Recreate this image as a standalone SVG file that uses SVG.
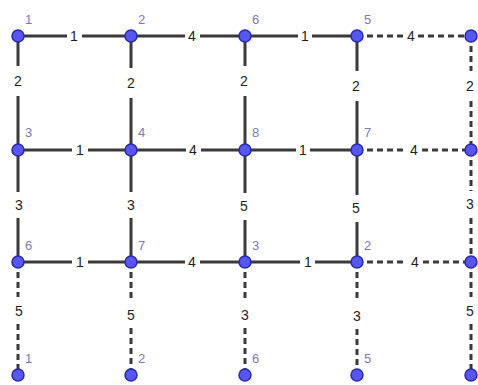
<svg xmlns="http://www.w3.org/2000/svg" width="478" height="385" viewBox="0 0 478 385">
<style>
.e{stroke:#3a3a3a;stroke-width:3;fill:none}
.d{stroke-dasharray:6 4}
.n{fill:#5656f0;stroke:#2a2aa8;stroke-width:1.5}
.nl{font-family:"Liberation Sans",Arial,sans-serif;font-size:13px;fill:#7a7ab8}
.el{font-family:"Liberation Sans",Arial,sans-serif;font-size:14px;fill:#1e1e1e;text-anchor:middle}
</style>
<rect width="478" height="385" fill="#ffffff"/>
<g id="connectors">
<!-- row 0 -->
<path class="e" d="M18 36H67M82 36H131"/>
<path class="e" d="M131 36H185M200 36H245"/>
<path class="e" d="M245 36H298M312 36H357"/>
<path class="e d" d="M357 36H404M418 36H471"/>
<!-- row 1 -->
<path class="e" d="M18 150H72M88 150H131"/>
<path class="e" d="M131 150H186M201 150H245"/>
<path class="e" d="M245 150H296M310 150H357"/>
<path class="e d" d="M357 150H406M422 150H471"/>
<!-- row 2 -->
<path class="e" d="M18 262H72M88 262H131"/>
<path class="e" d="M131 262H185M200 262H245"/>
<path class="e" d="M245 262H300M315 262H357"/>
<path class="e d" d="M357 262H407M423 262H471"/>
<!-- verticals rows 0-1 -->
<path class="e" d="M18 36V66M18 96V150"/>
<path class="e" d="M131 36V68M131 98V150"/>
<path class="e" d="M245 36V66M245 96V150"/>
<path class="e" d="M357 36V71M357 101V150"/>
<path class="e d" d="M471 36V71M471 101V150"/>
<!-- verticals rows 1-2 -->
<path class="e" d="M18 150V192M18 218V262"/>
<path class="e" d="M131 150V192M131 218V262"/>
<path class="e" d="M245 150V193M245 220V262"/>
<path class="e" d="M357 150V195M357 222V262"/>
<path class="e d" d="M471 150V191M471 218V262"/>
<!-- verticals rows 2-3 -->
<path class="e d" d="M18 262V297M18 324V375"/>
<path class="e d" d="M131 262V301M131 328V375"/>
<path class="e d" d="M245 262V301M245 328V375"/>
<path class="e d" d="M357 262V302M357 329V375"/>
<path class="e d" d="M471 262V297M471 324V375"/>
</g>
<g id="edge-labels">
<text class="el" x="74" y="41">1</text>
<text class="el" x="192" y="41">4</text>
<text class="el" x="305" y="41">1</text>
<text class="el" x="411" y="41">4</text>
<text class="el" x="80" y="155">1</text>
<text class="el" x="193" y="155">4</text>
<text class="el" x="303" y="155">1</text>
<text class="el" x="414" y="155">4</text>
<text class="el" x="80" y="267">1</text>
<text class="el" x="192" y="267">4</text>
<text class="el" x="308" y="267">1</text>
<text class="el" x="415" y="267">4</text>
<text class="el" x="18" y="86">2</text>
<text class="el" x="131" y="88">2</text>
<text class="el" x="244" y="86">2</text>
<text class="el" x="356" y="91">2</text>
<text class="el" x="470" y="91">2</text>
<text class="el" x="19" y="210">3</text>
<text class="el" x="131" y="210">3</text>
<text class="el" x="244" y="211">5</text>
<text class="el" x="356" y="213">5</text>
<text class="el" x="470" y="209">3</text>
<text class="el" x="19" y="316">5</text>
<text class="el" x="131" y="320">5</text>
<text class="el" x="245" y="320">3</text>
<text class="el" x="357" y="321">3</text>
<text class="el" x="470" y="316">5</text>
</g>
<g id="n-r0c0"><circle class="n" cx="18" cy="36" r="6"/><text class="nl" x="25" y="24">1</text></g>
<g id="n-r0c1"><circle class="n" cx="131" cy="36" r="6"/><text class="nl" x="138" y="24">2</text></g>
<g id="n-r0c2"><circle class="n" cx="245" cy="36" r="6"/><text class="nl" x="252" y="24">6</text></g>
<g id="n-r0c3"><circle class="n" cx="357" cy="36" r="6"/><text class="nl" x="364" y="24">5</text></g>
<g id="n-r0c4"><circle class="n" cx="471" cy="36" r="6"/></g>
<g id="n-r1c0"><circle class="n" cx="18" cy="150" r="6"/><text class="nl" x="25" y="137">3</text></g>
<g id="n-r1c1"><circle class="n" cx="131" cy="150" r="6"/><text class="nl" x="138" y="137">4</text></g>
<g id="n-r1c2"><circle class="n" cx="245" cy="150" r="6"/><text class="nl" x="252" y="137">8</text></g>
<g id="n-r1c3"><circle class="n" cx="357" cy="150" r="6"/><text class="nl" x="364" y="137">7</text></g>
<g id="n-r1c4"><circle class="n" cx="471" cy="150" r="6"/></g>
<g id="n-r2c0"><circle class="n" cx="18" cy="262" r="6"/><text class="nl" x="25" y="250">6</text></g>
<g id="n-r2c1"><circle class="n" cx="131" cy="262" r="6"/><text class="nl" x="138" y="250">7</text></g>
<g id="n-r2c2"><circle class="n" cx="245" cy="262" r="6"/><text class="nl" x="252" y="250">3</text></g>
<g id="n-r2c3"><circle class="n" cx="357" cy="262" r="6"/><text class="nl" x="364" y="250">2</text></g>
<g id="n-r2c4"><circle class="n" cx="471" cy="262" r="6"/></g>
<g id="n-r3c0"><circle class="n" cx="18" cy="375" r="6"/><text class="nl" x="25" y="363">1</text></g>
<g id="n-r3c1"><circle class="n" cx="131" cy="375" r="6"/><text class="nl" x="138" y="363">2</text></g>
<g id="n-r3c2"><circle class="n" cx="245" cy="375" r="6"/><text class="nl" x="252" y="363">6</text></g>
<g id="n-r3c3"><circle class="n" cx="357" cy="375" r="6"/><text class="nl" x="364" y="363">5</text></g>
<g id="n-r3c4"><circle class="n" cx="471" cy="375" r="6"/></g>
</svg>
